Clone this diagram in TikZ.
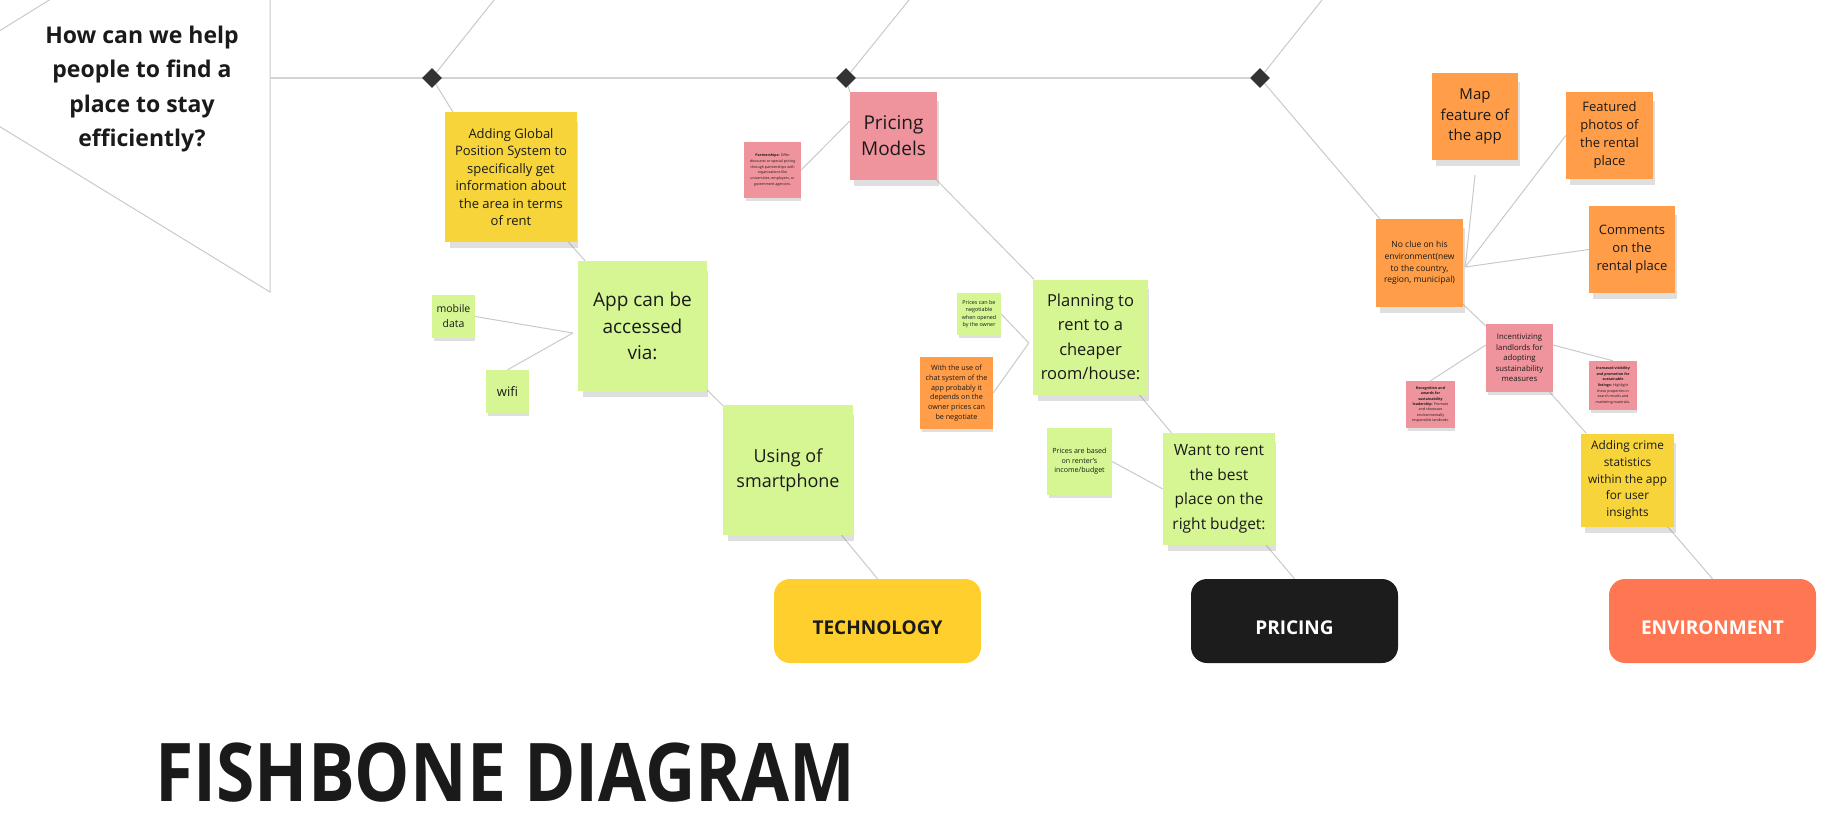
\documentclass[tikz,border=0pt]{standalone}
\usepackage{fontspec}
\setmainfont{Open Sans}
\newfontfamily\titlefont{Open Sans}[FakeStretch=0.86]
\usetikzlibrary{shapes.geometric, positioning, calc, shadows, backgrounds}

\definecolor{ink}{HTML}{1A1A1A}
\definecolor{linegray}{HTML}{C9C9C9}
\definecolor{spinegray}{HTML}{D3D3D3}
\definecolor{jointgray}{HTML}{333333}
\definecolor{noteyellow}{HTML}{F6D43A}
\definecolor{notegreen}{HTML}{D5F692}
\definecolor{notepink}{HTML}{EF949D}
\definecolor{noteorange}{HTML}{FF9D48}
\definecolor{techyellow}{HTML}{FFCF2E}
\definecolor{priceblack}{HTML}{1C1C1C}
\definecolor{envcoral}{HTML}{FF7752}

\begin{document}
\begin{tikzpicture}[x=1pt, y=-1pt,
		bone/.style={draw=linegray, line width=1pt},
		spine/.style={draw=spinegray, line width=2pt},
		joint/.style={diamond, fill=jointgray, minimum width=20pt, minimum height=20pt, inner sep=0pt},
		sticky/.style={rectangle, fill=#1, text=ink, align=center, inner sep=1pt,
			drop shadow={shadow xshift=3pt, shadow yshift=-8pt, shadow scale=0.97, opacity=0.25}},
		memo/.style={rectangle, fill=#1, text=ink, align=center, inner sep=1pt,
			drop shadow={shadow xshift=1pt, shadow yshift=-4pt, shadow scale=0.97, opacity=0.25}},
		category/.style={rectangle, rounded corners=16pt, fill=#1, minimum width=207pt, minimum height=84pt,
			text height=27.6pt, text depth=0pt, font=\bfseries\fontsize{19}{23}\selectfont}]
			\useasboundingbox (0,0) rectangle (1827,812);
			
			% Head and joints
			\node[align=center, text=ink, font=\bfseries\fontsize{23}{34.5}\selectfont] (question) at (142,89) {How can we help\\people to find a\\place to stay\\efficiently?};
			\node[joint] (d1) at (432,78) {};
			\node[joint] (d2) at (846,78) {};
			\node[joint] (d3) at (1260,78) {};
			\coordinate (apex) at (-78,79);
			\coordinate (headtop) at (270,-137);
			\coordinate (headbot) at (270,292);
			\coordinate (u1) at (494,0);
			\coordinate (u2) at (909,0);
			\coordinate (u3) at (1322,0);
			
			% Technology
			\node[sticky=noteyellow, minimum width=132pt, minimum height=130pt, font=\fontsize{13}{17.5}\selectfont] (gps) at (511,177) {Adding Global\\Position System to\\specifically get\\information about\\the area in terms\\of rent};
			\node[sticky=notegreen, minimum width=129pt, minimum height=130pt, font=\fontsize{19}{26.5}\selectfont] (app) at (642.5,326) {App can be\\accessed\\via:};
			\node[memo=notegreen, minimum width=43pt, minimum height=43pt, font=\fontsize{10.5}{15}\selectfont] (mobile) at (453.5,316.5) {mobile\\data};
			\node[memo=notegreen, minimum width=43pt, minimum height=43pt, font=\fontsize{13}{15}\selectfont] (wifi) at (507.5,391.5) {wifi};
			\node[sticky=notegreen, minimum width=130pt, minimum height=130pt, font=\fontsize{18}{25}\selectfont] (smart) at (788,470) {Using of\\smartphone};
			\node[category=techyellow, text=ink] (tech) at (877.5,621) {TECHNOLOGY};
			
			% Pricing
			\node[sticky=notepink, minimum width=87pt, minimum height=88pt, font=\fontsize{19}{26}\selectfont] (pricing) at (893.5,136) {Pricing\\Models};
			\node[memo=notepink, minimum width=57pt, minimum height=56pt, font=\fontsize{3.6}{5.8}\selectfont] (partner) at (772.5,170) {\textbf{Partnerships:} Offer\\discounts or special pricing\\through partnerships with\\organizations like\\universities, employers, or\\government agencies.};
			\node[sticky=notegreen, minimum width=115pt, minimum height=115pt, font=\fontsize{16.5}{24.5}\selectfont] (planning) at (1090.5,337) {Planning to\\rent to a\\cheaper\\room/house:};
			\node[memo=notegreen, minimum width=44pt, minimum height=42pt, font=\fontsize{5.4}{7.5}\selectfont] (negot) at (979,314) {Prices can be\\negotiable\\when opened\\by the owner};
			\node[memo=noteorange, minimum width=73pt, minimum height=72pt, font=\fontsize{7.2}{9.7}\selectfont] (chat) at (956.5,393) {With the use of\\chat system of the\\app probably it\\depends on the\\owner prices can\\be negotiate};
			\node[sticky=notegreen, minimum width=112pt, minimum height=112pt, font=\fontsize{15.5}{24.5}\selectfont] (want) at (1219,489) {Want to rent\\the best\\place on the\\right budget:};
			\node[memo=notegreen, minimum width=65pt, minimum height=67pt, font=\fontsize{7.1}{9.5}\selectfont] (based) at (1079.5,461.5) {Prices are based\\on renter's\\income/budget};
			\node[category=priceblack, text=white] (pricebox) at (1294.5,621) {PRICING};
			
			% Environment
			\node[sticky=noteorange, minimum width=87pt, minimum height=88pt, font=\fontsize{8.5}{11.7}\selectfont] (noclue) at (1419.5,263) {No clue on his\\environment(new\\to the country,\\region, municipal)};
			\node[sticky=noteorange, minimum width=86pt, minimum height=87pt, font=\fontsize{15}{20.5}\selectfont] (map) at (1475,116.5) {Map\\feature of\\the app};
			\node[sticky=noteorange, minimum width=87pt, minimum height=87pt, font=\fontsize{13}{18}\selectfont] (featured) at (1609.5,135.5) {Featured\\photos of\\the rental\\place};
			\node[sticky=noteorange, minimum width=86pt, minimum height=87pt, font=\fontsize{13}{18}\selectfont] (comments) at (1632,249.5) {Comments\\on the\\rental place};
			\node[memo=notepink, minimum width=67pt, minimum height=68pt, font=\fontsize{7.8}{10.5}\selectfont] (incent) at (1519.5,358) {Incentivizing\\landlords for\\adopting\\sustainability\\measures};
			\node[memo=notepink, minimum width=49pt, minimum height=47pt, font=\fontsize{3.6}{5.3}\selectfont] (recog) at (1430.5,404.5) {\textbf{Recognition and}\\\textbf{awards for}\\\textbf{sustainability}\\\textbf{leadership:} Promote\\and showcase\\environmentally\\responsible landlords.};
			\node[memo=notepink, minimum width=48pt, minimum height=49pt, font=\fontsize{3.6}{5.6}\selectfont] (incvis) at (1613,385.5) {\textbf{Increased visibility}\\\textbf{and promotion for}\\\textbf{sustainable}\\\textbf{listings:} Highlight\\these properties in\\search results and\\marketing materials.};
			\node[sticky=noteyellow, minimum width=93pt, minimum height=93pt, font=\fontsize{11.8}{16.8}\selectfont] (crime) at (1627.5,480) {Adding crime\\statistics\\within the app\\for user\\insights};
			\node[category=envcoral, text=white] (envbox) at (1712.5,621) {ENVIRONMENT};
			
			\node[anchor=base west, inner sep=0pt, text=ink, font=\titlefont\bfseries\fontsize{81}{81}\selectfont] (title) at (155,801) {FISHBONE DIAGRAM};
			
			% Connections
			\begin{scope}[on background layer]
				\draw[bone] (apex) -- (headtop) -- (headbot) -- cycle;
				\draw[spine] (270,78) -- (d3);
				\draw[bone] (d1) -- (u1);
				\draw[bone] (d2) -- (u2);
				\draw[bone] (d3) -- (u3);
				
				\draw[bone] (d1) -- ($(gps.north west)+(8,0)$);
				\draw[bone] (gps) -- (app);
				\coordinate (apphub) at ($(app.west)+(-5,7)$);
				\draw[bone] (apphub) -- (mobile.east);
				\draw[bone] (apphub) -- (wifi.north);
				\draw[bone] (app) -- (smart);
				\draw[bone] (smart) -- (tech.north);
				
				\draw[bone] (d2) -- (pricing.north west);
				\draw[bone] ($(pricing.west)+(0,-15)$) -- (partner.east);
				\draw[bone] (pricing) -- (planning);
				\coordinate (planhub) at ($(planning.west)+(-4,6)$);
				\draw[bone] (planhub) -- (negot.east);
				\draw[bone] (planhub) -- (chat.east);
				\draw[bone] (planning) -- (want);
				\draw[bone] (based.east) -- (want.west);
				\draw[bone] (want) -- (pricebox.north);
				
				\draw[bone] (d3) -- ($(noclue.north west)+(4,0)$);
				\coordinate (cluehub) at ($(noclue.east)+(2,4)$);
				\draw[bone] (cluehub) -- ($(map.south)+(0,15)$);
				\draw[bone] (cluehub) -- (featured.west);
				\draw[bone] (cluehub) -- (comments.west);
				\draw[bone] (noclue) -- (incent);
				\draw[bone] ($(incent.west)+(0,-13)$) -- (recog.north);
				\draw[bone] ($(incent.east)+(0,-13)$) -- (incvis.north);
				\draw[bone] (incent) -- (crime);
				\draw[bone] (crime) -- (envbox.north);
			\end{scope}
		\end{tikzpicture}
\end{document}
